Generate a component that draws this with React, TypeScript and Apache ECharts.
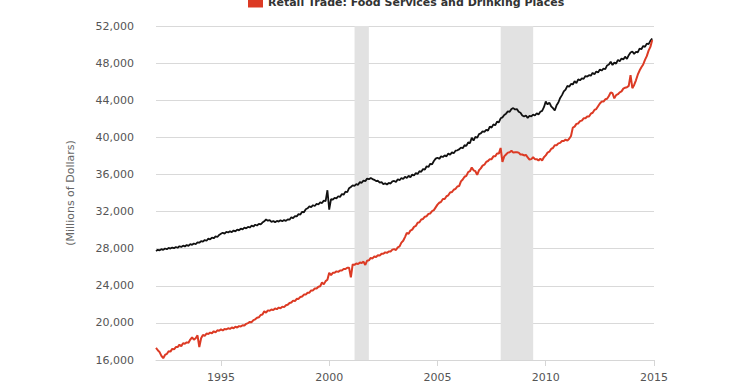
import React, { useEffect, useRef } from "react";
import * as echarts from "echarts";

const startYear = 1992;

const groceryStores: number[] = [
  // 1992
  27750, 27880, 27820, 27950, 27870, 28020, 27940, 28080, 28010, 28120, 28050, 28180,
  // 1993
  28100, 28260, 28190, 28320, 28240, 28400, 28300, 28480, 28420, 28560, 28480, 28680,
  // 1994
  28640, 28820, 28760, 28930, 28850, 29080, 28990, 29200, 29120, 29330, 29260, 29480,
  // 1995
  29600, 29720, 29620, 29820, 29740, 29880, 29780, 29960, 29860, 30050, 29980, 30150,
  // 1996
  30080, 30260, 30180, 30350, 30280, 30480, 30390, 30580, 30500, 30680, 30620, 30820,
  // 1997
  30950, 31150, 31020, 31080, 30880, 30980, 30860, 30990, 30920, 31060, 30960, 31080,
  // 1998
  31000, 31160, 31120, 31380, 31300, 31520, 31480, 31720, 31680, 31980, 31920, 32250,
  // 1999
  32350, 32550, 32480, 32680, 32600, 32820, 32760, 32980, 32920, 33180, 33120, 34300,
  // 2000
  32200, 33350, 33280, 33480, 33420, 33650, 33580, 33880, 33820, 34150, 34080, 34520,
  // 2001
  34650, 34820, 34760, 34950, 34880, 35180, 35100, 35350, 35280, 35550, 35480, 35620,
  // 2002
  35500, 35420, 35280, 35320, 35120, 35180, 34950, 35050, 34920, 35080, 35020, 35250,
  // 2003
  35300, 35180, 35480, 35380, 35620, 35500, 35760, 35620, 35850, 35700, 35980, 35880,
  // 2004
  36150, 36050, 36350, 36280, 36580, 36520, 36880, 36800, 37150, 37080, 37450, 37700,
  // 2005
  37800, 37680, 37950, 37880, 38050, 37950, 38250, 38120, 38380, 38280, 38560, 38600,
  // 2006
  38700, 38900, 38820, 39150, 39080, 39450, 39380, 39950, 39650, 40050, 39950, 40350,
  // 2007
  40420, 40650, 40580, 40800, 40720, 41150, 41050, 41400, 41300, 41700, 41620, 42050,
  // 2008
  42150, 42400, 42550, 42800, 42750, 43050, 43150, 43000, 43050, 42750, 42650, 42350,
  // 2009
  42250, 42350, 42100, 42300, 42250, 42450, 42350, 42600, 42450, 42750, 42850, 43250,
  // 2010
  43850, 43550, 43750, 43350, 43150, 42900, 43450, 43750, 44250, 44550, 44950, 45150,
  // 2011
  45550, 45450, 45750, 45700, 46050, 45850, 46250, 46150, 46350, 46300, 46600, 46550,
  // 2012
  46700, 46650, 46950, 46800, 47100, 47000, 47300, 47200, 47400, 47350, 47750, 47850,
  // 2013
  48150, 47800, 48050, 47950, 48350, 48200, 48500, 48400, 48700, 48450, 48850, 49150,
  // 2014
  49250, 49000, 49200, 49150, 49550, 49500, 49850, 49750, 50100, 50050, 50400, 50650,
];

const foodServices: number[] = [
  // 1992
  17300, 17050, 16850, 16450, 16200, 16550, 16650, 16950, 16900, 17200, 17150, 17400,
  // 1993
  17400, 17650, 17500, 17800, 17750, 17900, 17850, 18200, 18450, 18200, 18350, 18650,
  // 1994
  17400, 18350, 18700, 18600, 18850, 18800, 18950, 18880, 19100, 18980, 19200, 19150,
  // 1995
  19300, 19180, 19350, 19300, 19420, 19350, 19500, 19420, 19580, 19500, 19650, 19620,
  // 1996
  19750, 19720, 19900, 19980, 20100, 20080, 20300, 20380, 20550, 20600, 20850, 20900,
  // 1997
  21250, 21100, 21350, 21300, 21450, 21380, 21550, 21480, 21650, 21580, 21750, 21700,
  // 1998
  21900, 21950, 22150, 22200, 22400, 22350, 22600, 22580, 22800, 22850, 23050, 23050,
  // 1999
  23250, 23250, 23500, 23500, 23700, 23700, 23900, 23950, 24350, 24150, 24500, 24650,
  // 2000
  25400, 25150, 25400, 25400, 25550, 25500, 25650, 25650, 25800, 25800, 25950, 25950,
  // 2001
  24900, 26300, 26250, 26400, 26350, 26500, 26450, 26600, 26250, 26700, 26750, 27000,
  // 2002
  26950, 27150, 27100, 27300, 27250, 27450, 27450, 27600, 27550, 27700, 27700, 27900,
  // 2003
  27950, 27850, 28150, 28250, 28650, 28850, 29250, 29700, 29600, 29950, 30050, 30350,
  // 2004
  30450, 30800, 30850, 31150, 31200, 31450, 31500, 31750, 31800, 32050, 32150, 32450,
  // 2005
  32750, 32950, 33050, 33350, 33350, 33650, 33750, 34050, 34100, 34350, 34450, 34700,
  // 2006
  34750, 35250, 35450, 35750, 35850, 36250, 36350, 36750, 36450, 36350, 35950, 36450,
  // 2007
  36650, 36950, 37050, 37350, 37450, 37650, 37650, 37950, 37950, 38250, 38250, 38850,
  // 2008
  37350, 37950, 38150, 38350, 38400, 38550, 38350, 38400, 38400, 38350, 38150, 38150,
  // 2009
  38050, 38100, 37850, 37600, 37650, 37850, 37650, 37650, 37500, 37700, 37500, 37850,
  // 2010
  38050, 38350, 38450, 38750, 38850, 39150, 39150, 39350, 39400, 39600, 39600, 39750,
  // 2011
  39650, 39850, 40150, 41050, 41150, 41450, 41500, 41750, 41800, 42050, 42050, 42250,
  // 2012
  42250, 42550, 42650, 42950, 43050, 43350, 43650, 43850, 43850, 44100, 44150, 44450,
  // 2013
  44850, 44750, 44200, 44550, 44650, 44850, 44950, 45250, 45350, 45400, 45550, 46700,
  // 2014
  45300, 45650, 46150, 46750, 47200, 47550, 47850, 48350, 48750, 49350, 49750, 50500,
];

const xTickYears = [1995, 2000, 2005, 2010, 2015];
const recessions: [number, number][] = [
  [2001.17, 2001.83],
  [2007.92, 2009.42],
];

const blackName = "Retail Trade: Food and Beverage Stores";
const redName = "Retail Trade: Food Services and Drinking Places";

const FONT = "DejaVu Sans";

export default function App() {
  const ref = useRef<HTMLDivElement>(null);

  useEffect(() => {
    if (!ref.current) return;
    const chart = echarts.init(ref.current, undefined, { renderer: "svg" });
    const toPairs = (arr: number[]) => arr.map((v, i) => [startYear + i / 12, v]);

    chart.setOption({
      animation: false,
      backgroundColor: "#ffffff",
      textStyle: { fontFamily: FONT },
      legend: {
        data: [redName],
        left: 243,
        top: -8,
        itemWidth: 15,
        itemHeight: 10,
        itemGap: 5,
        icon: "rect",
        textStyle: { fontFamily: FONT, fontSize: 11, fontWeight: "bold", color: "#333" },
      },
      grid: { left: 156, right: 86, top: 26, bottom: 29 },
      xAxis: {
        type: "value",
        min: 1992,
        max: 2015,
        splitLine: { show: false },
        axisLine: { show: true, lineStyle: { color: "#d6d6d6", width: 1 } },
        axisTick: {
          show: true,
          customValues: xTickYears,
          length: 6,
          lineStyle: { color: "#d6d6d6" },
        },
        axisLabel: {
          customValues: xTickYears,
          color: "#555",
          fontSize: 11,
          fontFamily: FONT,
          margin: 12,
          formatter: (v: number) => String(Math.round(v)),
        },
      },
      yAxis: {
        type: "value",
        min: 16000,
        max: 52000,
        interval: 4000,
        name: "(Millions of Dollars)",
        nameLocation: "middle",
        nameGap: 80,
        nameRotate: 90,
        nameTextStyle: { color: "#666", fontSize: 11, fontFamily: FONT },
        axisLine: { show: false },
        axisTick: { show: false },
        splitLine: { lineStyle: { color: "#d9d9d9", width: 1 } },
        axisLabel: {
          color: "#555",
          fontSize: 11,
          fontFamily: FONT,
          margin: 22,
          formatter: (v: number) => v.toLocaleString("en-US"),
        },
      },
      series: [
        {
          name: blackName,
          type: "line",
          data: toPairs(groceryStores),
          showSymbol: false,
          symbol: "none",
          lineStyle: { color: "#111111", width: 1.8 },
          itemStyle: { color: "#111111" },
          z: 3,
          markArea: {
            silent: true,
            itemStyle: { color: "#e2e2e2" },
            data: recessions.map(([a, b]) => [{ xAxis: a }, { xAxis: b }]),
          },
        },
        {
          name: redName,
          type: "line",
          data: toPairs(foodServices),
          showSymbol: false,
          symbol: "none",
          lineStyle: { color: "#dc3a24", width: 2 },
          itemStyle: { color: "#dc3a24" },
          z: 4,
        },
      ],
    });

    return () => chart.dispose();
  }, []);

  return (
    <div
      ref={ref}
      style={{ position: "absolute", left: 0, top: 0, width: 740, height: 389 }}
    />
  );
}
